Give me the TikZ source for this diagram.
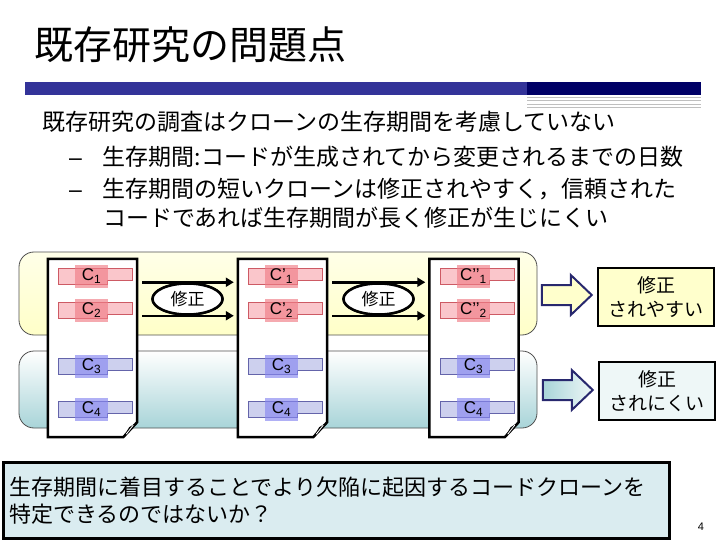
\documentclass[tikz,border=0pt]{standalone}
\usepackage{fontspec}
\setmainfont{Noto Sans CJK JP}
\newfontfamily\latin{Liberation Sans}
\usetikzlibrary{shapes.geometric,arrows.meta}
\definecolor{barblue}{RGB}{51,51,153}
\definecolor{bardark}{RGB}{0,0,102}
\definecolor{yelltop}{RGB}{255,255,232}
\definecolor{yellbot}{RGB}{255,255,200}
\definecolor{teallow}{RGB}{168,212,216}
\definecolor{redlight}{RGB}{250,198,203}
\definecolor{rededge}{RGB}{205,90,100}
\definecolor{reddark}{RGB}{240,125,135}
\definecolor{bluelight}{RGB}{205,208,238}
\definecolor{blueedge}{RGB}{100,100,170}
\definecolor{bluedark}{RGB}{135,135,240}
\definecolor{arrowedge}{RGB}{40,40,110}
\definecolor{labyell}{RGB}{255,255,204}
\definecolor{labteal}{RGB}{238,247,247}
\definecolor{conclfill}{RGB}{218,236,240}
\tikzset{
  bandline/.style={draw={rgb,255:red,80;green,80;blue,80}, line width=0.8pt, rounded corners=15pt},
  pagebox/.style={minimum width=89pt, minimum height=178pt, inner sep=0pt},
  pageline/.style={draw=black, fill=white, line width=2.5pt},
  clonemark/.style={minimum width=33pt, minimum height=23pt, inner sep=1pt,
    fill opacity=0.65, text opacity=1, font=\latin\fontsize{17}{17}\selectfont},
  fixnode/.style={ellipse, draw, fill=white, line width=2.5pt, minimum width=70pt,
    minimum height=31pt, inner sep=0pt, font=\fontsize{17}{17}\selectfont},
  fixarrow/.style={line width=2.5pt, shorten <=5pt, shorten >=4pt,
    -{Triangle[length=8pt,width=9pt]}},
  blockarrow/.style={draw=arrowedge, line width=2pt, line join=miter},
  labbox/.style={draw, line width=2.5pt, minimum width=116pt, minimum height=58pt,
    align=center, font=\fontsize{19}{24}\selectfont},
  bodytext/.style={anchor=west, inner sep=0pt, font=\fontsize{23}{23}\selectfont}
}
\newcommand{\clonebox}[4]{%
  \filldraw[fill=#3light, draw=#3edge, line width=0.6pt] (#2) -- ++(74,0) -- ++(0,12)
    -- ++(-25,0) -- ++(0,4) -- ++(-49,0) -- cycle;
  \path (#2) ++(33.5,8) node[clonemark, fill=#3dark] (#1) {#4};
}
\begin{document}
\begin{tikzpicture}[x=1pt,y=-1pt]
\useasboundingbox (0,0) rectangle (720,540);
\node[anchor=west, inner sep=0pt, font=\fontsize{39}{39}\selectfont] (title) at (34,45) {既存研究の問題点};
\fill[barblue] (25,82) rectangle (527,95);
\fill[bardark] (527,82) rectangle (701,95);
\foreach \yy in {97,100.5,104,107.5}
  \draw[black!25, line width=0.6pt] (527,\yy) -- (701,\yy);
\node[bodytext] (b1) at (42,122) {既存研究の調査はクローンの生存期間を考慮していない};
\node[bodytext] (b2) at (69,157) {{\latin –}\hspace{21pt}生存期間:コードが生成されてから変更されるまでの日数};
\node[bodytext] (b3) at (69,189) {{\latin –}\hspace{21pt}生存期間の短いクローンは修正されやすく，信頼された};
\node[bodytext] (b4) at (103,218) {コードであれば生存期間が長く修正が生じにくい};
\shadedraw[bandline, top color=yelltop, bottom color=yellbot] (19,252) rectangle (537,335);
\shadedraw[bandline, top color=white, bottom color=teallow] (19,351) rectangle (537,428);
\node[pagebox] (p1) at (92.5,348) {};
\node[pagebox] (p2) at (282.5,348) {};
\node[pagebox] (p3) at (474,348) {};
\foreach \p in {p1,p2,p3} {
  \filldraw[pageline] (\p.north west) -- (\p.north east) -- ([yshift=15pt]\p.south east)
    -- ([xshift=-14pt]\p.south east) -- (\p.south west) -- cycle;
  \fill ([yshift=15pt]\p.south east) -- ([xshift=-14pt]\p.south east)
    -- ([shift={(-8pt,10pt)}]\p.south east) -- cycle;
  \draw[white, line width=0.8pt] ([shift={(-11pt,3pt)}]\p.south east) -- ([shift={(-4pt,12pt)}]\p.south east);
}
\foreach \pg/\x/\pr in {1/58/{}, 2/248/’, 3/440/’’} {
  \clonebox{c\pg-1}{\x,268}{red}{C\pr\textsubscript{1}}
  \clonebox{c\pg-2}{\x,302}{red}{C\pr\textsubscript{2}}
  \clonebox{c\pg-3}{\x,358}{blue}{C\textsubscript{3}}
  \clonebox{c\pg-4}{\x,401}{blue}{C\textsubscript{4}}
}
\path (187.5,299) coordinate (m1) (378.5,299) coordinate (m2);
\node[fixnode] (fix1) at (m1) {修正};
\node[fixnode] (fix2) at (m2) {修正};
\draw[fixarrow] (p1.east |- fix1.north) -- (p2.west |- fix1.north);
\draw[fixarrow] (p1.east |- fix1.south) -- (p2.west |- fix1.south);
\draw[fixarrow] (p2.east |- fix2.north) -- (p3.west |- fix2.north);
\draw[fixarrow] (p2.east |- fix2.south) -- (p3.west |- fix2.south);
\node[fixnode] at (fix1) {修正};
\node[fixnode] at (fix2) {修正};
\node[labbox, fill=labyell] (lab1) at (656,297) {修正\\されやすい};
\node[labbox, fill=labteal] (lab2) at (657,391) {修正\\されにくい};
\draw[blockarrow, fill=labyell] ([shift={(-5pt,2pt)}]lab1.west) -- ++(-21pt,20pt) -- ++(0pt,-10pt)
  -- ++(-29pt,0pt) -- ++(0pt,-20pt) -- ++(29pt,0pt) -- ++(0pt,-10pt) -- cycle;
\shadedraw[blockarrow, left color=teallow, right color=labteal] ([shift={(-5pt,1pt)}]lab2.west) -- ++(-21pt,20pt) -- ++(0pt,-10pt)
  -- ++(-29pt,0pt) -- ++(0pt,-20pt) -- ++(29pt,0pt) -- ++(0pt,-10pt) -- cycle;
\node[draw, line width=2.5pt, fill=conclfill, anchor=north west, minimum height=76pt,
  text width=654pt, inner xsep=6pt, align=left, font=\fontsize{22}{27}\selectfont]
  (concl) at (2,461) {生存期間に着目することでより欠陥に起因するコードクローンを\\特定できるのではないか？};
\node[font=\latin\fontsize{11}{11}\selectfont] (pnum) at (701,527) {4};
\end{tikzpicture}
\end{document}
